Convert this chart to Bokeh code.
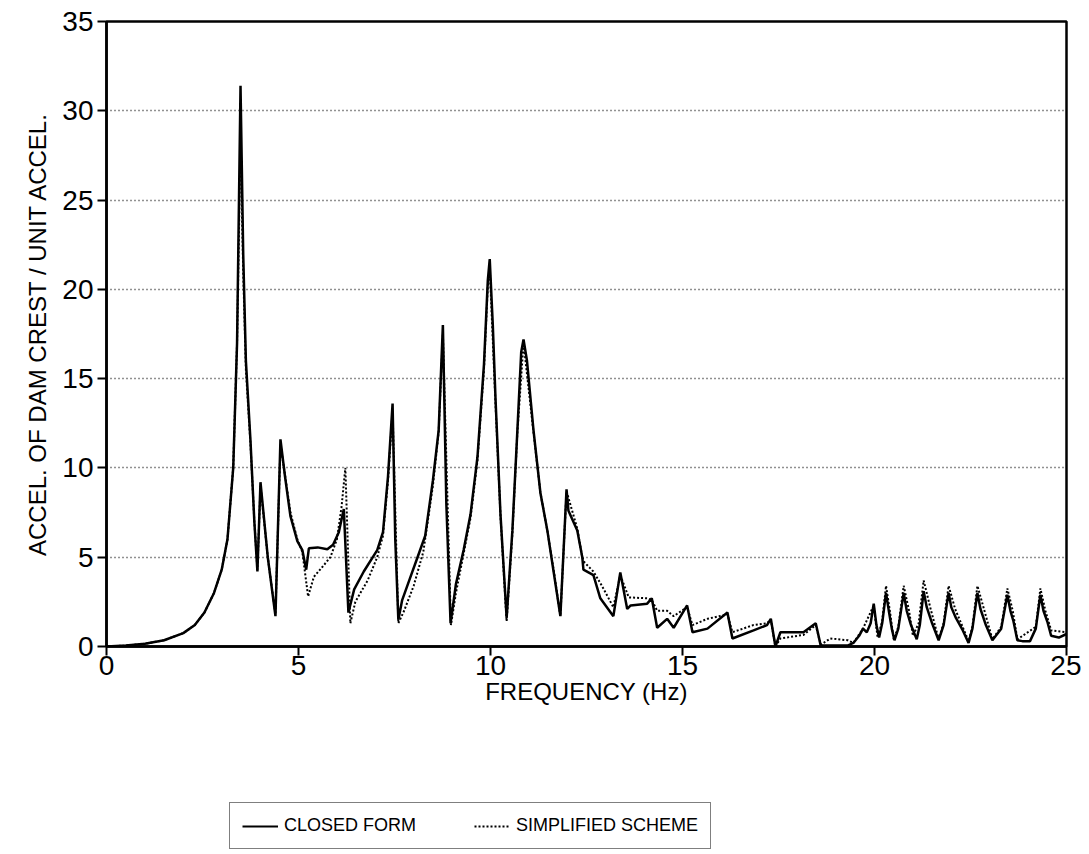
from bokeh.plotting import figure
from bokeh.layouts import column
from bokeh.models import Range1d, FixedTicker, Legend, LegendItem
from bokeh.embed import file_html
from bokeh.resources import INLINE

# ---- data ----
closed_freq = [0.0, 0.5, 1.0, 1.5, 2.0, 2.3, 2.55, 2.8, 3.0, 3.15, 3.3, 3.4, 3.49, 3.56, 3.63,
               3.75, 3.85, 3.93, 4.01, 4.2, 4.40, 4.53, 4.65, 4.79, 4.97, 5.1, 5.2, 5.27, 5.5,
               5.75, 5.9, 6.05, 6.18, 6.3, 6.45, 6.7, 7.05, 7.2, 7.33, 7.45, 7.52, 7.6, 7.7,
               7.9, 8.1, 8.3, 8.5, 8.65, 8.76, 8.85, 8.96, 9.1, 9.3, 9.48, 9.66, 9.83, 9.93,
               9.98, 10.06, 10.13, 10.26, 10.42, 10.57, 10.7, 10.8, 10.86, 10.95, 11.12, 11.3,
               11.48, 11.65, 11.82, 11.98, 12.03, 12.26, 12.39, 12.42, 12.68, 12.86, 13.2,
               13.38, 13.56, 13.65, 14.08, 14.2, 14.34, 14.6, 14.77, 15.12, 15.26, 15.65,
               16.17, 16.3, 16.85, 17.2, 17.3, 17.42, 17.55, 18.15, 18.47, 18.6, 19.3, 19.45,
               19.6, 19.7, 19.8, 19.9, 19.98, 20.05, 20.12, 20.2, 20.3, 20.38, 20.45, 20.52,
               20.62, 20.76, 20.84, 20.95, 21.1, 21.18, 21.28, 21.36, 21.5, 21.67, 21.8, 21.93,
               22.0, 22.12, 22.3, 22.45, 22.55, 22.68, 22.76, 22.9, 23.07, 23.3, 23.46, 23.54,
               23.62, 23.72, 23.85, 24.05, 24.2, 24.32, 24.4, 24.5, 24.6, 24.8, 25.0]
closed_accel = [0.0, 0.05, 0.15, 0.35, 0.75, 1.2, 1.9, 3.0, 4.3, 6.0, 10.0, 17.0, 31.4, 22.0, 16.0,
                11.5, 7.0, 4.2, 9.2, 5.0, 1.7, 11.6, 9.5, 7.3, 5.9, 5.4, 4.3, 5.5, 5.55,
                5.45, 5.7, 6.4, 7.7, 1.9, 3.2, 4.2, 5.4, 6.4, 9.5, 13.6, 6.0, 1.5, 2.6,
                3.8, 5.0, 6.2, 9.3, 12.1, 18.0, 8.0, 1.3, 3.5, 5.4, 7.4, 10.6, 15.8, 20.5,
                21.7, 18.0, 13.9, 7.4, 1.6, 6.5, 12.1, 16.5, 17.2, 16.0, 12.1, 8.6,
                6.5, 4.1, 1.7, 8.8, 7.6, 6.5, 5.0, 4.3, 4.0, 2.7, 1.7,
                4.15, 2.1, 2.3, 2.4, 2.7, 1.05, 1.55, 1.05, 2.3, 0.8, 1.0,
                1.9, 0.45, 0.9, 1.2, 1.55, 0.0, 0.8, 0.8, 1.3, 0.05, 0.05, 0.2,
                0.6, 1.0, 0.8, 1.3, 2.4, 1.2, 0.5, 1.3, 3.0, 1.9, 1.0, 0.35,
                1.0, 3.0, 2.0, 1.2, 0.4, 1.2, 3.1, 2.2, 1.3, 0.35, 1.2, 3.0,
                2.2, 1.6, 0.9, 0.2, 1.0, 3.0, 2.1, 1.2, 0.35, 1.0, 2.9, 2.0,
                1.4, 0.35, 0.3, 0.3, 1.0, 2.9, 2.0, 1.4, 0.6, 0.5, 0.7]

simp_freq = [0.0, 0.5, 1.0, 1.5, 2.0, 2.3, 2.55, 2.8, 3.0, 3.15, 3.3, 3.4, 3.49, 3.56, 3.63,
             3.75, 3.85, 3.93, 4.01, 4.2, 4.40, 4.53, 4.65, 4.79, 4.97, 5.1, 5.25, 5.4, 5.6,
             5.83, 6.0, 6.12, 6.22, 6.35, 6.48, 6.8, 7.05, 7.2, 7.33, 7.45, 7.6, 7.75, 8.0,
             8.25, 8.5, 8.65, 8.76, 8.97, 9.1, 9.3, 9.48, 9.66, 9.83, 9.93, 9.98, 10.13,
             10.26, 10.42, 10.57, 10.7, 10.86, 11.12, 11.3, 11.48, 11.65, 11.82, 11.98,
             12.26, 12.39, 12.45, 12.68, 12.9, 13.2, 13.38, 13.6, 14.08, 14.2, 14.34, 14.6,
             14.77, 15.12, 15.26, 15.65, 16.17, 16.3, 16.85, 17.2, 17.3, 17.42, 17.55, 18.15,
             18.47, 18.6, 18.85, 19.3, 19.45, 19.7, 19.98, 20.08, 20.2, 20.3, 20.4, 20.5,
             20.62, 20.76, 20.9, 21.0, 21.15, 21.28, 21.45, 21.67, 21.8, 21.93, 22.1, 22.45,
             22.55, 22.68, 22.85, 23.07, 23.3, 23.46, 23.6, 23.72, 24.2, 24.32, 24.45, 24.6,
             25.0]
simp_accel = [0.0, 0.05, 0.15, 0.35, 0.75, 1.2, 1.9, 3.0, 4.3, 6.0, 10.0, 17.0, 28.2, 21.0, 15.5,
              11.3, 7.0, 4.3, 9.0, 5.0, 1.8, 11.3, 9.6, 7.5, 6.0, 5.3, 2.8, 3.9, 4.4,
              5.0, 6.0, 7.8, 10.0, 1.3, 2.5, 3.7, 5.0, 6.2, 9.3, 13.2, 1.3, 2.0, 3.4,
              5.3, 9.0, 12.0, 17.5, 1.2, 3.0, 5.2, 7.2, 10.4, 15.5, 20.2, 21.2, 13.6,
              7.3, 1.4, 6.3, 12.0, 17.0, 12.0, 8.6, 6.5, 4.2, 1.7, 8.7,
              6.6, 5.0, 4.7, 4.2, 3.4, 2.2, 4.0, 2.75, 2.7, 2.6, 2.0, 2.0,
              1.7, 2.2, 1.2, 1.55, 1.8, 0.8, 1.2, 1.3, 1.5, 0.0, 0.45, 0.65,
              1.2, 0.1, 0.45, 0.35, 0.2, 1.0, 2.3, 0.5, 1.4, 3.4, 2.0, 0.4,
              1.1, 3.4, 2.0, 0.6, 1.3, 3.7, 2.2, 0.4, 1.3, 3.4, 2.1, 0.3,
              1.1, 3.4, 2.1, 0.4, 1.1, 3.25, 2.0, 0.4, 1.1, 3.25, 2.0, 0.9,
              0.8]

x_ticks = [0, 5, 10, 15, 20, 25]
y_ticks = [0, 5, 10, 15, 20, 25, 30, 35]
legend_labels = ["CLOSED FORM", "SIMPLIFIED SCHEME"]

FONT = "Liberation Sans"

p = figure(frame_width=960, frame_height=625,
           min_border_left=106, min_border_top=21, min_border_right=15, min_border_bottom=74,
           x_range=Range1d(0, 25), y_range=Range1d(0, 35),
           output_backend="svg", toolbar_location=None,
           background_fill_color="white", border_fill_color="white")

p.outline_line_color = "black"
p.outline_line_width = 2.5

for ax in (p.xaxis[0], p.yaxis[0]):
    ax.axis_line_width = 2.5
    ax.axis_line_color = "black"
    ax.major_tick_line_width = 2
    ax.major_tick_line_color = "black"
    ax.major_tick_out = 9
    ax.major_tick_in = 0
    ax.minor_tick_line_color = None
    ax.major_label_text_font = FONT
    ax.major_label_text_font_size = "28px"
    ax.major_label_text_color = "black"
    ax.axis_label_text_font = FONT
    ax.axis_label_text_font_size = "24px"
    ax.axis_label_text_font_style = "normal"
    ax.axis_label_text_color = "black"

p.xaxis.ticker = FixedTicker(ticks=x_ticks)
p.yaxis.ticker = FixedTicker(ticks=y_ticks)
p.xaxis.axis_label = "FREQUENCY (Hz)"
p.yaxis.axis_label = "ACCEL. OF DAM CREST / UNIT ACCEL."
p.xaxis.major_label_standoff = 0
p.xaxis.axis_label_standoff = 0
p.yaxis.major_label_standoff = 4
p.yaxis.axis_label_standoff = 8

p.xgrid.grid_line_color = None
p.ygrid.grid_line_color = "#222222"
p.ygrid.grid_line_dash = "1 3"
p.ygrid.grid_line_width = 1.5

p.line(closed_freq, closed_accel, line_color="black", line_width=2.5)
p.line(simp_freq, simp_accel, line_color="black", line_width=2, line_dash="2 2")

# ---- separate strip holding the legend box below the chart ----
leg_h = 854 - (21 + 625 + 74)
q = figure(width=1081, height=leg_h, min_border=0,
           x_range=Range1d(0, 1), y_range=Range1d(0, 1),
           x_axis_type=None, y_axis_type=None,
           output_backend="svg", toolbar_location=None,
           background_fill_color="white", border_fill_color="white")
q.outline_line_color = None
q.xgrid.grid_line_color = None
q.ygrid.grid_line_color = None
# legend-only renderers, kept outside the visible range of this strip
q_closed = q.line([-2, -1], [-2, -2], line_color="black", line_width=2)
q_simp = q.line([-2, -1], [-2, -2], line_color="black", line_width=2, line_dash="2 2")

legend = Legend(items=[LegendItem(label=legend_labels[0], renderers=[q_closed]),
                       LegendItem(label=legend_labels[1], renderers=[q_simp])],
                location=(123, 5), orientation="horizontal",
                glyph_width=36, glyph_height=20, label_standoff=6, spacing=58, padding=12,
                margin=0,
                label_text_font=FONT, label_text_font_size="18px",
                label_text_color="black",
                border_line_color="black", border_line_width=1.5,
                background_fill_alpha=1.0)
q.add_layout(legend)

layout = column(p, q, spacing=0)
open("out.html", "w").write(file_html(layout, INLINE))
